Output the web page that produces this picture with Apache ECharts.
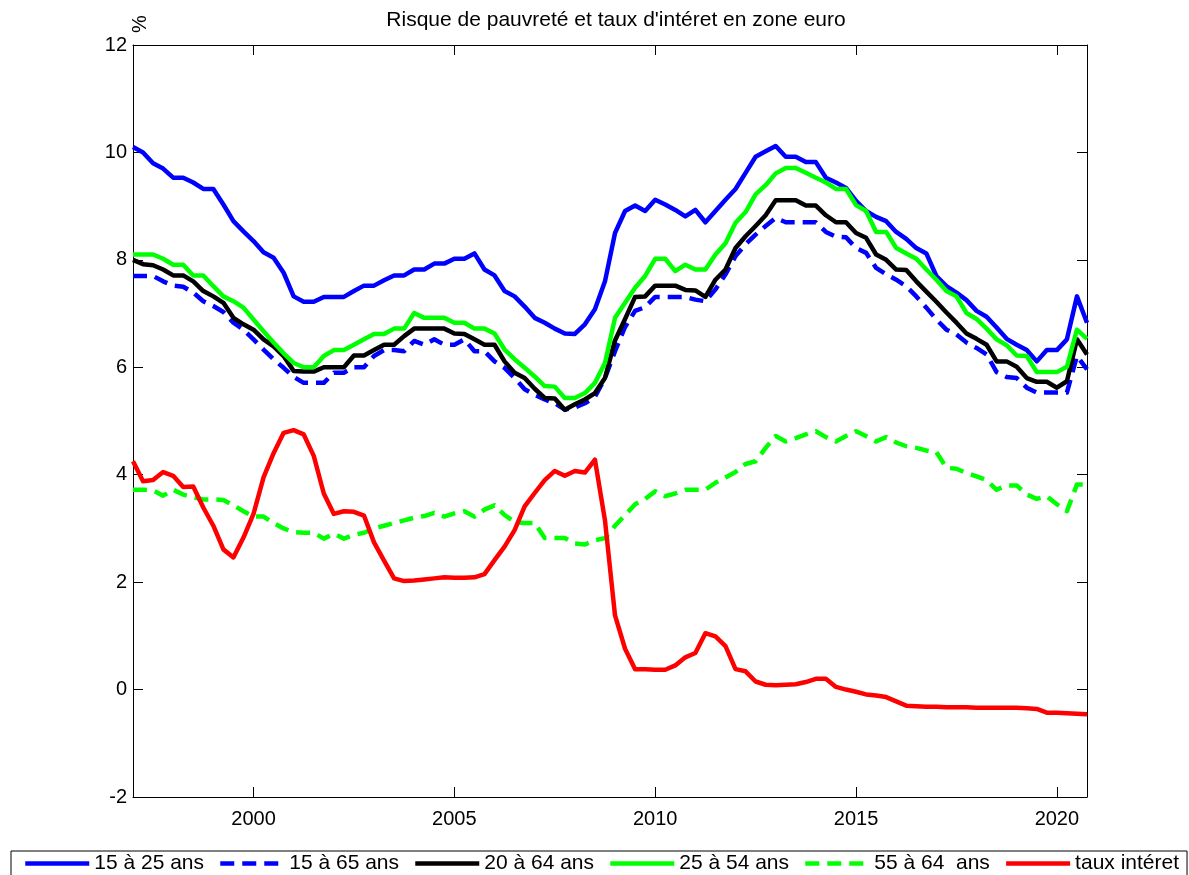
<!DOCTYPE html>
<html>
<head>
<meta charset="utf-8">
<script src="https://cdn.jsdelivr.net/npm/echarts@6/dist/echarts.min.js"></script>
<style>
  html, body { margin: 0; padding: 0; background: #fff; }
  #chart { width: 1189px; height: 875px; }
</style>
</head>
<body>
<div id="chart"></div>
<script>
  // trimestres 1997T1 .. 2020T4
  const quarters = [];
  for (let y = 1997; y <= 2020; y++) {
    for (let q = 1; q <= 4; q++) quarters.push(y + 'T' + q);
  }
  const tickYears = ['2000', '2005', '2010', '2015', '2020'];

  const names = ['15 à 25 ans', '15 à 65 ans', '20 à 64 ans', '25 à 54 ans', '55 à 64  ans', 'taux intéret'];

  const age15_25 = [
    10.1, 10.0, 9.8, 9.7, 9.53, 9.53, 9.44, 9.32, 9.32, 9.03, 8.72, 8.53,
    8.35, 8.14, 8.04, 7.76, 7.32, 7.22, 7.22, 7.31, 7.31, 7.31, 7.42, 7.52,
    7.52, 7.62, 7.71, 7.71, 7.82, 7.82, 7.93, 7.93, 8.02, 8.02, 8.12, 7.82,
    7.71, 7.42, 7.32, 7.13, 6.92, 6.83, 6.72, 6.63, 6.62, 6.8, 7.08, 7.6,
    8.5, 8.91, 9.01, 8.91, 9.12, 9.03, 8.93, 8.81, 8.93, 8.7, 8.91, 9.12,
    9.32, 9.62, 9.92, 10.02, 10.12, 9.92, 9.92, 9.82, 9.82, 9.53, 9.44, 9.34,
    9.1, 8.91, 8.8, 8.72, 8.52, 8.39, 8.22, 8.12, 7.7, 7.51, 7.39, 7.25,
    7.05, 6.94, 6.74, 6.53, 6.42, 6.32, 6.11, 6.32, 6.32, 6.52, 7.32, 6.83
  ];
  const age15_65 = [
    7.7, 7.7, 7.7, 7.6, 7.52, 7.5, 7.39, 7.23, 7.14, 7.03, 6.83, 6.7,
    6.52, 6.33, 6.15, 5.99, 5.82, 5.71, 5.71, 5.71, 5.9, 5.9, 6.0, 6.0,
    6.21, 6.32, 6.32, 6.3, 6.49, 6.42, 6.52, 6.42, 6.42, 6.52, 6.3, 6.3,
    6.11, 5.99, 5.8, 5.59, 5.49, 5.4, 5.33, 5.21, 5.25, 5.33, 5.45, 5.8,
    6.3, 6.75, 7.05, 7.12, 7.31, 7.31, 7.31, 7.31, 7.26, 7.23, 7.45, 7.73,
    8.07, 8.29, 8.47, 8.63, 8.78, 8.7, 8.7, 8.7, 8.7, 8.52, 8.43, 8.42,
    8.22, 8.13, 7.85, 7.73, 7.63, 7.51, 7.32, 7.11, 6.89, 6.7, 6.61, 6.46,
    6.36, 6.24, 5.91, 5.82, 5.8, 5.62, 5.53, 5.53, 5.53, 5.53, 6.21, 5.96
  ];
  const age20_64 = [
    8.0, 7.92, 7.9, 7.82, 7.71, 7.71, 7.6, 7.42, 7.32, 7.2, 6.92, 6.8,
    6.7, 6.52, 6.39, 6.21, 5.93, 5.92, 5.92, 6.0, 6.0, 6.0, 6.22, 6.22,
    6.32, 6.42, 6.42, 6.58, 6.72, 6.72, 6.72, 6.72, 6.63, 6.62, 6.52, 6.42,
    6.42, 6.11, 5.9, 5.8, 5.6, 5.43, 5.42, 5.21, 5.31, 5.4, 5.52, 5.8,
    6.5, 6.9, 7.31, 7.32, 7.52, 7.52, 7.52, 7.44, 7.43, 7.31, 7.63, 7.82,
    8.22, 8.44, 8.63, 8.83, 9.11, 9.11, 9.11, 9.01, 9.01, 8.83, 8.7, 8.7,
    8.5, 8.41, 8.1, 8.0, 7.82, 7.81, 7.6, 7.41, 7.22, 7.02, 6.83, 6.63,
    6.53, 6.42, 6.11, 6.11, 6.01, 5.8, 5.73, 5.73, 5.62, 5.74, 6.52, 6.24
  ];
  const age25_54 = [
    8.1, 8.1, 8.1, 8.02, 7.91, 7.91, 7.71, 7.71, 7.51, 7.32, 7.23, 7.11,
    6.89, 6.67, 6.46, 6.26, 6.08, 6.0, 6.0, 6.21, 6.32, 6.32, 6.42, 6.52,
    6.62, 6.62, 6.72, 6.72, 7.01, 6.92, 6.92, 6.92, 6.83, 6.83, 6.72, 6.72,
    6.63, 6.33, 6.15, 5.99, 5.83, 5.65, 5.64, 5.43, 5.43, 5.52, 5.71, 6.08,
    6.92, 7.2, 7.48, 7.7, 8.02, 8.02, 7.79, 7.91, 7.82, 7.82, 8.1, 8.31,
    8.69, 8.89, 9.22, 9.39, 9.61, 9.71, 9.71, 9.62, 9.53, 9.44, 9.32, 9.32,
    9.02, 8.91, 8.52, 8.52, 8.22, 8.12, 8.02, 7.82, 7.63, 7.42, 7.32, 7.01,
    6.9, 6.72, 6.52, 6.41, 6.22, 6.21, 5.91, 5.91, 5.91, 6.01, 6.7, 6.53
  ];
  const age55_64 = [
    3.72, 3.72, 3.71, 3.61, 3.72, 3.63, 3.58, 3.54, 3.54, 3.53, 3.43, 3.32,
    3.22, 3.22, 3.1, 3.0, 2.93, 2.92, 2.92, 2.81, 2.9, 2.81, 2.88, 2.92,
    3.0, 3.05, 3.1, 3.15, 3.2, 3.23, 3.29, 3.22, 3.28, 3.32, 3.22, 3.35,
    3.43, 3.25, 3.12, 3.1, 3.1, 2.82, 2.82, 2.82, 2.72, 2.7, 2.78, 2.82,
    3.05, 3.25, 3.45, 3.55, 3.69, 3.6, 3.65, 3.72, 3.72, 3.72, 3.85, 3.95,
    4.05, 4.2, 4.25, 4.5, 4.72, 4.62, 4.68, 4.75, 4.81, 4.7, 4.62, 4.72,
    4.81, 4.72, 4.62, 4.7, 4.6, 4.53, 4.5, 4.45, 4.42, 4.13, 4.11, 4.03,
    3.97, 3.9, 3.72, 3.8, 3.8, 3.63, 3.55, 3.6, 3.45, 3.32, 3.82, 3.82
  ];
  const tauxInteret = [
    4.25, 3.88, 3.9, 4.05, 3.98, 3.77, 3.78, 3.39, 3.05, 2.61, 2.46, 2.83,
    3.27, 3.95, 4.4, 4.78, 4.83, 4.75, 4.35, 3.65, 3.27, 3.32, 3.31, 3.24,
    2.74, 2.4, 2.07, 2.02, 2.03, 2.05, 2.07, 2.09, 2.08, 2.08, 2.09, 2.15,
    2.41, 2.66, 2.97, 3.41, 3.66, 3.9, 4.07, 3.98, 4.07, 4.04, 4.28, 3.15,
    1.38, 0.76, 0.38, 0.38, 0.37, 0.37, 0.45, 0.6, 0.68, 1.05, 0.99, 0.81,
    0.38, 0.34, 0.15, 0.09, 0.08, 0.09, 0.1, 0.14, 0.2, 0.2, 0.05, 0.0,
    -0.04, -0.09, -0.11, -0.14, -0.22, -0.3, -0.31, -0.32, -0.32, -0.33, -0.33, -0.33,
    -0.34, -0.34, -0.34, -0.34, -0.34, -0.35, -0.36, -0.43, -0.43, -0.44, -0.45, -0.46
  ];

  const FONT = '"Liberation Sans", Arial, Helvetica, sans-serif';
  const isTick = (idx, val) => val.endsWith('T1') && tickYears.includes(val.slice(0, 4));

  function lineSerie(name, data, color, dashed) {
    return {
      name: name,
      type: 'line',
      data: data,
      symbol: 'none',
      lineStyle: { color: color, width: 4.5, type: dashed ? [14, 8] : 'solid', cap: 'butt', join: 'round' },
      itemStyle: { color: color }
    };
  }

  const chart = echarts.init(document.getElementById('chart'));
  chart.setOption({
    animation: false,
    backgroundColor: '#fff',
    title: {
      text: 'Risque de pauvreté et taux d\'intéret en zone euro',
      left: 611,
      textAlign: 'center',
      top: 5,
      textStyle: { fontFamily: FONT, fontSize: 21, fontWeight: 'normal', color: '#000' }
    },
    graphic: [{
      type: 'text',
      x: 140,
      y: 24,
      rotation: Math.PI / 2,
      style: { text: '%', fontFamily: FONT, fontSize: 20, fill: '#000', align: 'center', verticalAlign: 'middle' }
    }],
    legend: {
      left: 11,
      top: 851,
      padding: [2, 8, 10, 12],
      itemWidth: 64,
      itemHeight: 14,
      itemGap: 14,
      borderColor: '#000',
      borderWidth: 1,
      itemStyle: { opacity: 0 },
      lineStyle: { width: 4.5 },
      data: names,
      textStyle: { fontFamily: FONT, fontSize: 21, color: '#000' }
    },
    grid: { left: 133, right: 102, top: 45, bottom: 78 },
    xAxis: [{
      type: 'category',
      data: quarters,
      boundaryGap: false,
      axisLine: { onZero: false, lineStyle: { color: '#000', width: 1 } },
      axisTick: { show: true, inside: true, length: 10, interval: isTick, lineStyle: { color: '#000' } },
      axisLabel: {
        interval: isTick, margin: 12, color: '#000', fontFamily: FONT, fontSize: 20,
        formatter: v => v.slice(0, 4)
      },
      splitLine: { show: false }
    }, {
      type: 'category',
      data: quarters,
      position: 'top',
      boundaryGap: false,
      axisLine: { onZero: false, lineStyle: { color: '#000', width: 1 } },
      axisTick: { show: true, inside: true, length: 10, interval: isTick, lineStyle: { color: '#000' } },
      axisLabel: { show: false },
      splitLine: { show: false }
    }],
    yAxis: [{
      type: 'value',
      min: -2,
      max: 12,
      interval: 2,
      axisLine: { show: true, onZero: false, lineStyle: { color: '#000', width: 1 } },
      axisTick: { show: true, inside: true, length: 10, lineStyle: { color: '#000' } },
      axisLabel: { margin: 6, color: '#000', fontFamily: FONT, fontSize: 20 },
      splitLine: { show: false }
    }, {
      type: 'value',
      min: -2,
      max: 12,
      interval: 2,
      position: 'right',
      axisLine: { show: true, onZero: false, lineStyle: { color: '#000', width: 1 } },
      axisTick: { show: true, inside: true, length: 10, lineStyle: { color: '#000' } },
      axisLabel: { show: false },
      splitLine: { show: false }
    }],
    series: [
      lineSerie(names[0], age15_25, '#0000ff', false),
      lineSerie(names[1], age15_65, '#0000ff', true),
      lineSerie(names[2], age20_64, '#000000', false),
      lineSerie(names[3], age25_54, '#00ff00', false),
      lineSerie(names[4], age55_64, '#00ff00', true),
      lineSerie(names[5], tauxInteret, '#ff0000', false)
    ]
  });
</script>
</body>
</html>
